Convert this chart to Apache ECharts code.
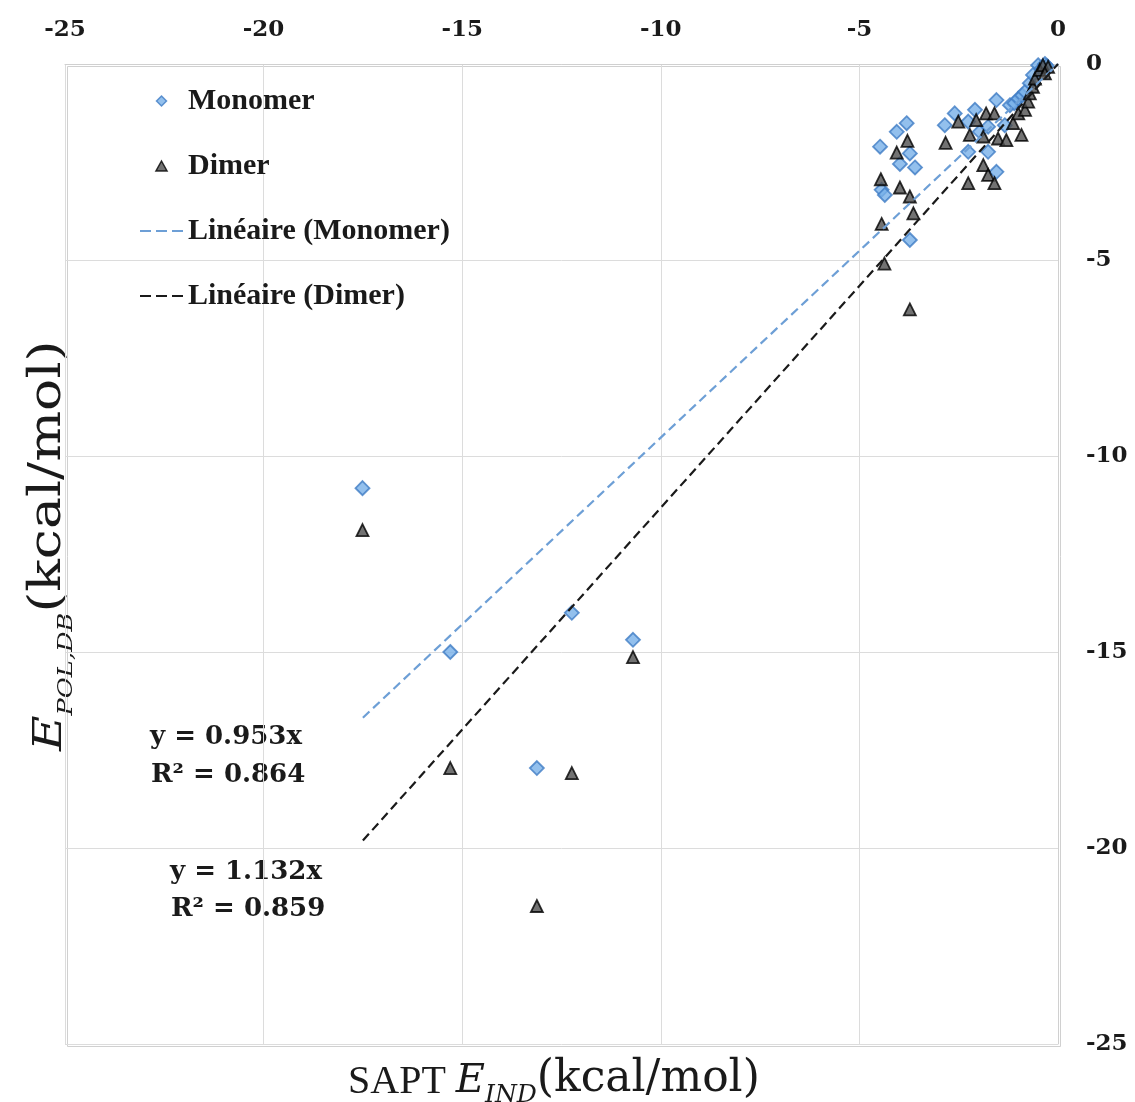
<!DOCTYPE html>
<html><head><meta charset="utf-8">
<script src="https://cdn.jsdelivr.net/npm/echarts@6/dist/echarts.min.js"></script>
<style>html,body{margin:0;padding:0;background:#fff}#c{width:1135px;height:1102px}</style>
</head><body><div id="c"></div>
<script>
// Monomer points [SAPT E_IND, E_POL,DB]
const monomerPts = [
 [-17.51,-10.82],[-15.30,-15.00],[-12.24,-14.00],[-10.70,-14.69],[-13.12,-17.96],
 [-4.48,-2.11],[-4.06,-1.73],[-3.81,-1.51],[-3.73,-2.28],[-3.98,-2.55],[-3.60,-2.64],
 [-4.44,-3.21],[-4.36,-3.34],[-3.73,-4.49],
 [-2.85,-1.56],[-2.60,-1.26],[-2.09,-1.17],[-1.55,-0.92],[-2.26,-1.47],[-1.97,-1.73],
 [-1.76,-1.60],[-2.26,-2.24],[-1.76,-2.24],[-1.55,-2.75],[-1.34,-1.56],[-1.21,-1.05],
 [-1.10,-1.00],[-1.00,-0.88],[-0.90,-0.80],[-0.83,-0.71],[-0.71,-0.49],[-0.63,-0.28],
 [-0.50,-0.03],[-0.40,-0.10],[-0.33,0.00],[-0.28,-0.05]
];
// Dimer points
const dimerPts = [
 [-17.51,-11.89],[-15.30,-17.96],[-12.24,-18.09],[-10.70,-15.13],[-13.12,-21.48],
 [-3.79,-1.96],[-4.06,-2.26],[-2.83,-2.01],[-4.46,-2.94],[-3.98,-3.15],[-3.73,-3.38],
 [-3.64,-3.81],[-4.44,-4.08],[-4.37,-5.09],[-3.73,-6.26],
 [-2.51,-1.47],[-2.22,-1.81],[-2.06,-1.43],[-1.81,-1.26],[-1.60,-1.26],[-1.88,-1.85],
 [-1.51,-1.90],[-1.30,-1.94],[-1.88,-2.58],[-1.76,-2.83],[-1.60,-3.04],[-2.26,-3.04],
 [-1.13,-1.51],[-0.92,-1.81],[-1.00,-1.26],[-0.83,-1.17],[-0.75,-0.96],[-0.71,-0.75],
 [-0.63,-0.58],[-0.58,-0.37],[-0.46,-0.15],[-0.38,-0.03],[-0.25,-0.07],[-0.33,-0.24]
];
// Linear trend (through origin) slopes and x-extent
const monomerSlope = 0.953;
const dimerSlope = 1.132;
const fitXRange = [-17.5, 0];
const seriesNames = ['Monomer','Dimer','Linéaire (Monomer)','Linéaire (Dimer)'];
const monomerEq = ['y = 0.953x','R² = 0.864'];
const dimerEq = ['y = 1.132x','R² = 0.859'];

const fitLine = s => fitXRange.map(x => [x, +(s*x).toFixed(3)]);
const SERIF = '"Liberation Serif", "Times New Roman", serif';
const DSERIF = '"DejaVu Serif", serif';
const BLUE = '#78b0e9', BLUE_EDGE = '#3f7cc4', TRI = '#4f4f4f', TRI_EDGE = '#000';
const LBLUE = '#6d9fd6', DARK = '#1a1a1a';
const DASH_ICON = 'path://M0,0h11v2h-11z M16,0h11v2h-11z M32,0h11v2h-11z';

const titleRich = (subSize) => ({
  t:{fontFamily:SERIF, fontSize:40, lineHeight:40, padding:[0,0,6,0], verticalAlign:'bottom', fill:DARK},
  e:{fontFamily:DSERIF, fontSize:40, fontStyle:'italic', lineHeight:40, padding:[0,0,6,0], verticalAlign:'bottom', fill:DARK},
  s:{fontFamily:DSERIF, fontSize:subSize, fontStyle:'italic', lineHeight:subSize, verticalAlign:'bottom', fill:DARK},
  b:{fontFamily:DSERIF, fontSize:44, lineHeight:44, padding:[0,0,6,0], verticalAlign:'bottom', fill:DARK}
});

const chart = echarts.init(document.getElementById('c'));
chart.setOption({
  backgroundColor:'#fff',
  animation:false,
  grid:{left:65,right:77,top:64,bottom:58},
  legend:{
    orient:'vertical', left:135, top:81, itemWidth:43, itemHeight:10, itemGap:35, itemTextGap:5,
    symbolKeepAspect:true,
    data:[
      {name:seriesNames[0], icon:'path://M5,0L10,5L5,10L0,5Z', itemStyle:{color:BLUE, borderColor:BLUE_EDGE, borderWidth:1.5}},
      {name:seriesNames[1], icon:'path://M5,0L10,9L0,9Z', itemStyle:{color:TRI, borderColor:TRI_EDGE, borderWidth:1.5}},
      {name:seriesNames[2], icon:DASH_ICON, itemStyle:{color:LBLUE, borderWidth:0}},
      {name:seriesNames[3], icon:DASH_ICON, itemStyle:{color:DARK, borderWidth:0}}
    ],
    textStyle:{fontFamily:SERIF, fontWeight:'bold', fontSize:30, color:DARK, lineHeight:30}
  },
  xAxis:{
    type:'value', position:'top', min:-25, max:0, interval:5,
    axisLine:{show:true, onZero:false, lineStyle:{color:'#d0d0d0', width:1}},
    axisTick:{show:false},
    axisLabel:{fontFamily:DSERIF, fontWeight:'bold', fontSize:23, color:DARK, margin:22},
    splitLine:{show:true, lineStyle:{color:'#dcdcdc', width:1}}
  },
  yAxis:{
    type:'value', position:'right', min:-25, max:0, interval:5,
    axisLine:{show:true, onZero:false, lineStyle:{color:'#d0d0d0', width:1}},
    axisTick:{show:false},
    axisLabel:{fontFamily:DSERIF, fontWeight:'bold', fontSize:23, color:DARK, margin:28, padding:[8,0,0,0]},
    splitLine:{show:true, lineStyle:{color:'#dcdcdc', width:1}}
  },
  graphic:[
    {type:'rect', left:65, top:64, shape:{width:993, height:980}, style:{fill:'none', stroke:'#d0d0d0', lineWidth:1}, silent:true, z:-1},
    {type:'text', x:150, y:737, style:{text:monomerEq[0], font:'bold 26px '+DSERIF, fill:DARK, verticalAlign:'middle'}},
    {type:'text', x:151, y:775, style:{text:monomerEq[1], font:'bold 26px '+DSERIF, fill:DARK, verticalAlign:'middle'}},
    {type:'text', x:170, y:872, style:{text:dimerEq[0], font:'bold 26px '+DSERIF, fill:DARK, verticalAlign:'middle'}},
    {type:'text', x:171, y:909, style:{text:dimerEq[1], font:'bold 26px '+DSERIF, fill:DARK, verticalAlign:'middle'}},
    {type:'text', x:348, y:1064, style:{
      text:'{t|SAPT }{e|E}{s|IND}{b|(kcal/mol)}', rich:titleRich(25)}},
    {type:'text', x:33, y:751, rotation:Math.PI/2, scaleX:1.22, style:{
      text:'{e|E}{s|POL,DB}{b|(kcal/mol)}', rich:titleRich(21)}}
  ],
  series:[
    {name:seriesNames[0], type:'scatter', data:monomerPts, symbol:'diamond', symbolSize:14,
     itemStyle:{color:BLUE, borderColor:BLUE_EDGE, borderWidth:1.8}, z:3},
    {name:seriesNames[1], type:'scatter', data:dimerPts, symbol:'triangle', symbolSize:12,
     itemStyle:{color:TRI, borderColor:TRI_EDGE, borderWidth:1.8}, z:4},
    {name:seriesNames[2], type:'line', data:fitLine(monomerSlope), symbol:'none', showSymbol:false,
     itemStyle:{color:LBLUE}, lineStyle:{color:LBLUE, width:2.2, type:[9,5]}, z:5},
    {name:seriesNames[3], type:'line', data:fitLine(dimerSlope), symbol:'none', showSymbol:false,
     itemStyle:{color:DARK}, lineStyle:{color:DARK, width:2.2, type:[9,5]}, z:5}
  ]
});
</script></body></html>
